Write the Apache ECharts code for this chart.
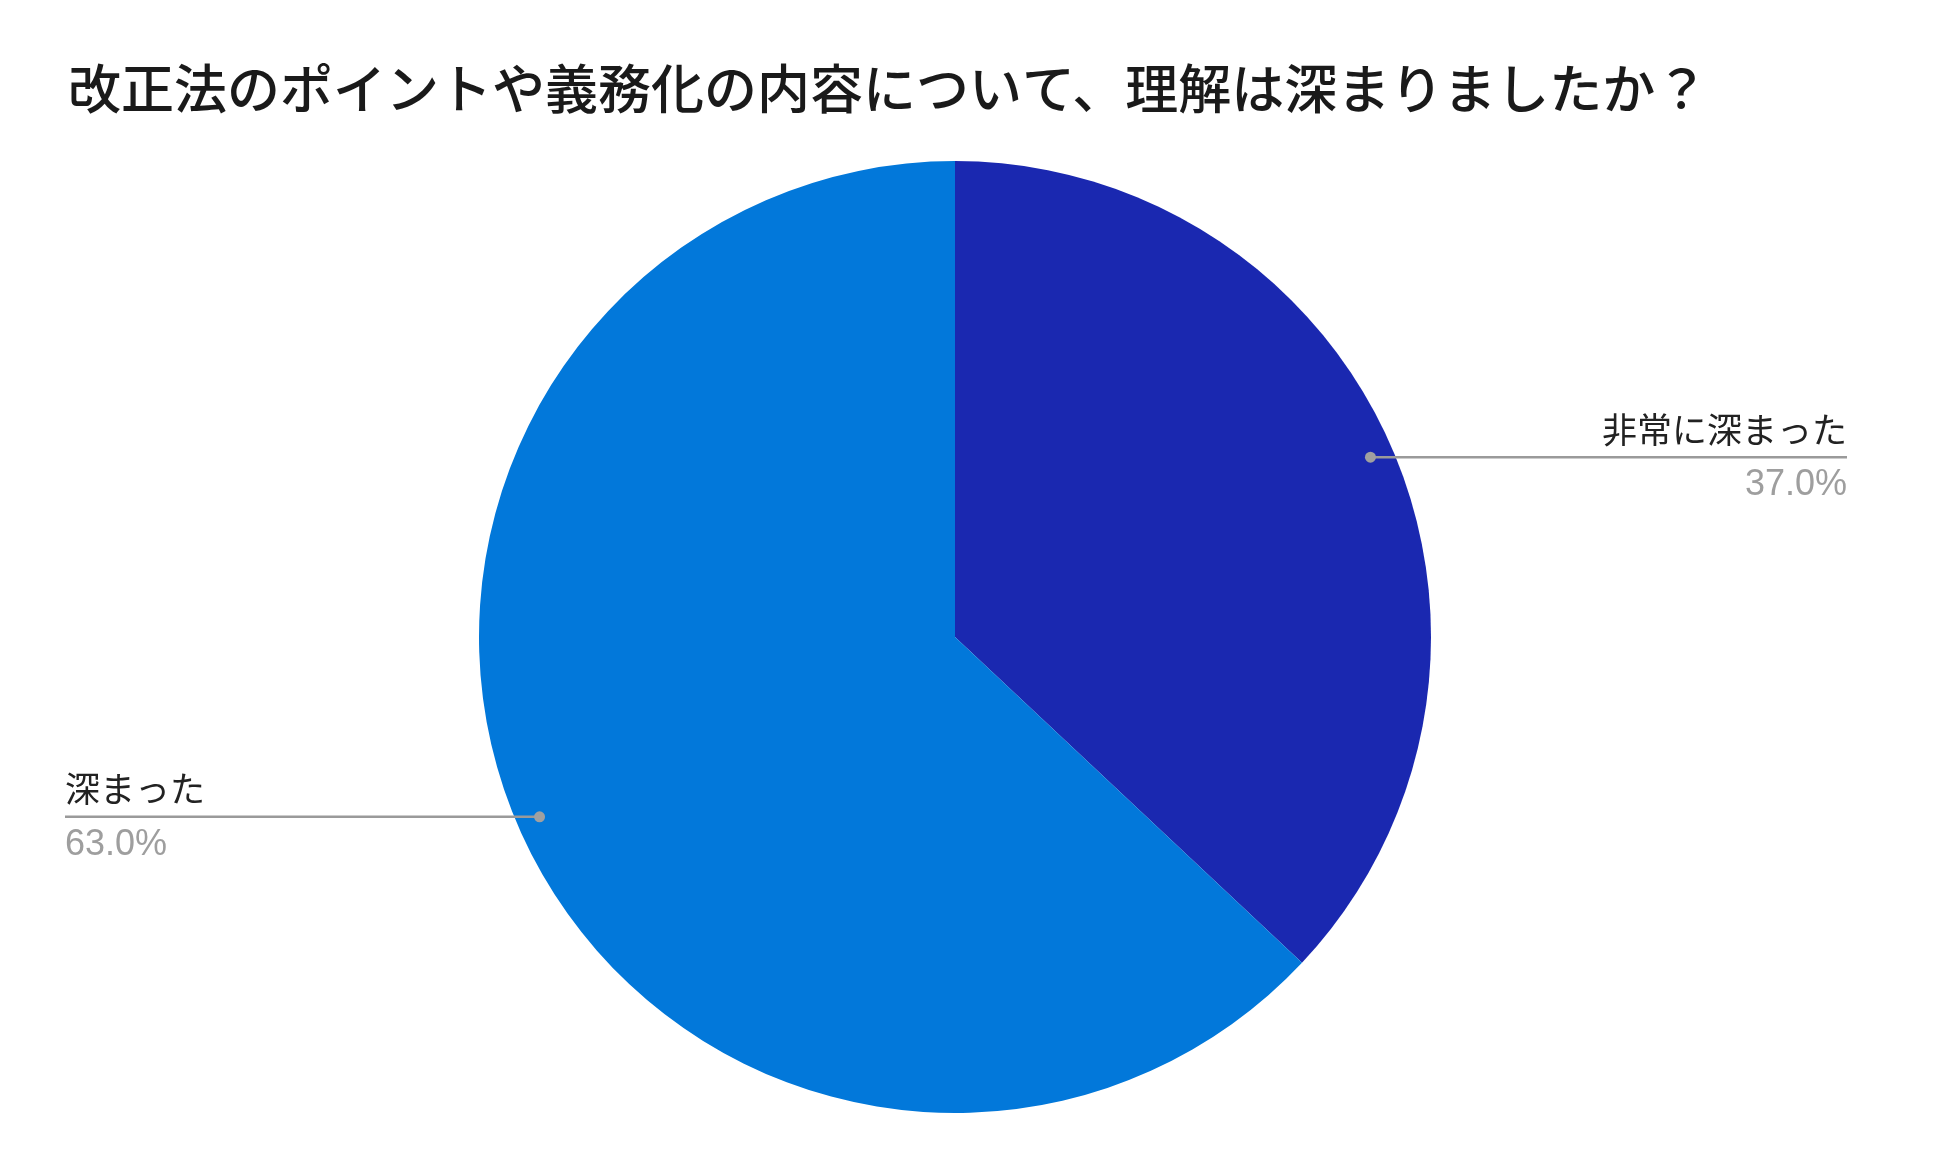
<!DOCTYPE html>
<html>
<head>
<meta charset="utf-8">
<script src="https://cdn.jsdelivr.net/npm/echarts@6/dist/echarts.min.js"></script>
<style>
html,body{margin:0;padding:0;background:#fff;}
#c{width:1950px;height:1159px;}
</style>
</head>
<body>
<div id="c"></div>
<script>
const titleText = '改正法のポイントや義務化の内容について、理解は深まりましたか？';
const categories = ['非常に深まった', '深まった'];
const values = [37.0, 63.0];
const colors = ['#1a28b0', '#0278da'];

const CX = 955, CY = 637, R = 476;
const DOT_RATIO = 0.951;
const RIGHT_EDGE = 1847, LEFT_EDGE = 65;

const total = values.reduce((a, b) => a + b, 0);
const mids = [];
let acc = 0;
values.forEach(v => { mids.push((acc + v / 2) / total * 100); acc += v; });

const chart = echarts.init(document.getElementById('c'));
chart.setOption({
  animation: false,
  backgroundColor: '#ffffff',
  title: {
    text: titleText,
    left: 63,
    top: 57,
    textStyle: { fontFamily: 'Noto Sans CJK JP', fontSize: 53, fontWeight: 500, color: '#1a1a1a' }
  },
  polar: { center: [CX, CY], radius: R },
  angleAxis: { type: 'value', min: 0, max: 100, startAngle: 90, clockwise: true, show: false },
  radiusAxis: { type: 'value', min: 0, max: 1, show: false },
  series: [
    {
      type: 'pie',
      center: [CX, CY],
      radius: R,
      startAngle: 90,
      clockwise: true,
      silent: true,
      data: categories.map((n, i) => ({ name: n, value: values[i], itemStyle: { color: colors[i] } })),
      label: {
        show: true,
        position: 'outside',
        formatter: p => '{n|' + p.name + '}\n{p|' + p.value.toFixed(1) + '%}',
        rich: {
          n: { fontFamily: 'Noto Sans CJK JP', fontSize: 35, color: '#222222', lineHeight: 56 },
          p: { fontFamily: 'Liberation Sans', fontSize: 36, color: '#9e9e9e', lineHeight: 56 }
        }
      },
      labelLine: { show: false },
      labelLayout: function (params) {
        const a = mids[params.dataIndex] / 100 * 2 * Math.PI;
        const dx = CX + R * DOT_RATIO * Math.sin(a);
        const dy = CY - R * DOT_RATIO * Math.cos(a);
        const right = dx >= CX;
        return {
          x: right ? RIGHT_EDGE : LEFT_EDGE,
          y: dy,
          align: right ? 'right' : 'left',
          verticalAlign: 'middle'
        };
      }
    },
    {
      type: 'custom',
      coordinateSystem: 'polar',
      silent: true,
      z: 10,
      data: mids.map(m => [DOT_RATIO, m]),
      renderItem: function (params, api) {
        const p = api.coord([api.value(0), api.value(1)]);
        const right = p[0] >= CX;
        const ex = right ? RIGHT_EDGE : LEFT_EDGE;
        return {
          type: 'group',
          children: [
            { type: 'line', shape: { x1: p[0], y1: p[1], x2: ex, y2: p[1] }, style: { stroke: '#9a9a9a', lineWidth: 2.6 } },
            { type: 'circle', shape: { cx: p[0], cy: p[1], r: 5.5 }, style: { fill: '#a0a0a0' } }
          ]
        };
      }
    }
  ]
});
</script>
</body>
</html>
